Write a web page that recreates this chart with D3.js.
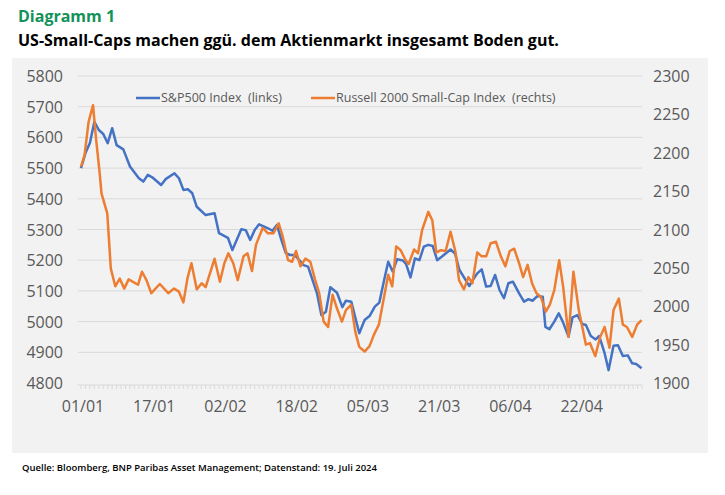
<!doctype html>
<html lang="en">
<head>
  <meta charset="utf-8">
  <script src="https://cdnjs.cloudflare.com/ajax/libs/d3/7.8.5/d3.min.js"></script>
  <style type="text/css">
    body { margin: 0; padding: 0; background: #fff; }
    svg { display: block; font-family: "Open Sans", "Noto Sans", sans-serif; }
  </style>
</head>
<body>
<svg id="canvas" width="725" height="495"></svg>
<script>
// [days since 01/01/2024, index value]
var spx = [[0,5500],[1,5549],[2,5582],[3,5651],[4,5624],[5,5611],[6,5581],[7,5630],[8,5575],[9.5,5561],[11,5505],[13,5467],[14,5456],[15,5478],[16,5470],[18,5445],[19,5464],[21,5483],[22,5467],[23,5429],[24,5431],[25,5418],[26,5374],[28,5347],[30,5353],[31,5288],[33,5273],[34,5233],[36,5301],[37,5298],[38,5266],[39,5298],[40,5317],[42,5304],[43,5296],[44,5315],[45,5266],[46,5223],[47,5217],[48,5217],[50,5184],[51,5179],[53,5092],[54,5021],[55,5032],[56,5112],[57.5,5094],[58.7,5047],[59.5,5068],[60.7,5065],[62.5,4962],[63.7,5005],[64.8,5018],[66,5049],[67,5062],[68,5130],[69,5195],[70,5163],[71,5203],[72.3,5199],[73,5188],[74,5144],[75,5206],[76,5200],[77,5244],[78,5250],[79,5246],[80,5200],[81,5211],[83,5235],[84,5222],[85,5168],[86.4,5135],[87.2,5116],[88,5135],[89,5157],[90,5170],[91,5114],[92,5116],[93,5152],[94,5103],[95,5076],[96,5125],[97,5130],[98.4,5092],[99.5,5065],[100.5,5073],[101.4,5068],[102.5,5083],[103.7,5081],[104.3,4983],[105.2,4975],[106.3,5000],[107.3,5027],[108.2,5000],[109.5,4951],[110.4,5014],[111.5,5021],[112.6,4992],[113.4,4989],[114.5,4953],[115.6,4942],[116.4,4953],[117.6,4897],[118.5,4842],[119.6,4921],[120.6,4923],[121.7,4888],[122.8,4890],[123.8,4864],[124.7,4862],[125.9,4848]];
var rut = [[0,2182],[0.8,2197],[1.7,2240],[2.7,2262],[3.4,2217],[4.2,2173],[4.6,2147],[5.9,2121],[6.7,2049],[7.7,2026],[8.7,2036],[9.7,2023],[10.7,2035],[12.8,2028],[13.7,2045],[14.7,2034],[15.8,2017],[17.7,2029],[19.6,2017],[20.9,2023],[22,2019],[23,2005],[23.9,2036],[24.8,2056],[26,2022],[27.1,2030],[28,2025],[30,2062],[31.2,2032],[32.2,2056],[33.1,2069],[34.2,2056],[35.2,2034],[36.5,2065],[37.4,2069],[38.4,2046],[39.3,2080],[40.8,2102],[42,2095],[43.2,2095],[44.4,2108],[45.3,2091],[46.5,2060],[47.4,2058],[48.3,2072],[49.3,2052],[50.4,2062],[51.5,2058],[52.6,2034],[53.5,2017],[54.5,1980],[55.5,1973],[56.5,2015],[57.5,1997],[58.6,1980],[59.5,1995],[60.7,2002],[61.6,1967],[62.5,1947],[63.7,1941],[64.8,1948],[65.8,1963],[66.9,1976],[68,2010],[69,2041],[69.9,2026],[70.8,2078],[71.8,2073],[72.9,2060],[73.6,2055],[74.8,2074],[75.7,2069],[76.6,2099],[78,2123],[78.9,2112],[79.8,2070],[80.8,2073],[81.9,2072],[83,2097],[84.1,2071],[84.9,2034],[86,2022],[87,2038],[87.9,2030],[89,2070],[90,2065],[91,2065],[92,2082],[93.2,2084],[94.3,2065],[95.3,2052],[96.3,2072],[97.3,2075],[98.4,2056],[99.3,2038],[100.3,2054],[101.3,2030],[102.3,2017],[103.3,2012],[104.4,1993],[105.3,2002],[106.3,2021],[107.4,2060],[108.3,2025],[109.5,1960],[110.6,2045],[111.8,1995],[113.4,1950],[114.3,1952],[115.5,1935],[116.6,1960],[117.6,1973],[118.7,1946],[119.6,1995],[120.8,2010],[121.7,1976],[122.6,1973],[123.8,1960],[124.9,1976],[125.9,1982]];
var leftTicks = [4800,4900,5000,5100,5200,5300,5400,5500,5600,5700,5800];
var rightTicks = [1900,1950,2000,2050,2100,2150,2200,2250,2300];
var xTickLabels = ['01/01','17/01','02/02','18/02','05/03','21/03','06/04','22/04'];
var legendLabels = ['S&P500 Index  (links)', 'Russell 2000 Small-Cap Index  (rechts)'];

var blue = '#4472c4', orange = '#ed7d31';
var svg = d3.select('#canvas');

svg.append('rect').attr('x', 12).attr('y', 58).attr('width', 696).attr('height', 395).attr('fill', '#f2f2f2');
svg.append('rect').attr('x', 15).attr('y', 455).attr('width', 690).attr('height', 25).attr('fill', '#fff');

svg.append('text').attr('x', 18).attr('y', 22).text('Diagramm 1')
  .attr('fill', '#12925a').style('font-size', '16px').style('font-weight', 'bold');
svg.append('text').attr('x', 18).attr('y', 46).text('US-Small-Caps machen ggü. dem Aktienmarkt insgesamt Boden gut.')
  .attr('fill', '#000').style('font-size', '16px').style('font-weight', 'bold');
svg.append('text').attr('x', 22).attr('y', 471)
  .text('Quelle: Bloomberg, BNP Paribas Asset Management; Datenstand: 19. Juli 2024')
  .attr('fill', '#000').style('font-size', '9.5px').style('font-weight', '600');

var x = d3.scaleLinear().domain([0, 126]).range([81, 642]);
var yL = d3.scaleLinear().domain([4800, 5800]).range([383, 76]);
var yR = d3.scaleLinear().domain([1900, 2300]).range([383, 76]);

svg.selectAll('.grid').data(leftTicks.slice(1)).enter().append('line')
  .attr('x1', 78).attr('x2', 642)
  .attr('y1', function(d) { return yL(d); }).attr('y2', function(d) { return yL(d); })
  .attr('stroke', '#d9d9d9').attr('stroke-width', 1);

svg.selectAll('.lt').data(leftTicks).enter().append('text')
  .attr('x', 63).attr('y', function(d) { return yL(d) + 6; })
  .attr('text-anchor', 'end').attr('fill', '#595959').style('font-size', '16px')
  .text(function(d) { return d; });
svg.selectAll('.rt').data(rightTicks).enter().append('text')
  .attr('x', 653).attr('y', function(d) { return yR(d) + 6; })
  .attr('fill', '#595959').style('font-size', '16px')
  .text(function(d) { return d; });

// axis line with daily minor ticks
svg.append('line').attr('x1', 78).attr('x2', 642).attr('y1', 385).attr('y2', 385).attr('stroke', '#d9d9d9');
svg.selectAll('.mt').data(d3.range(0, 127)).enter().append('line')
  .attr('x1', function(d) { return x(d); }).attr('x2', function(d) { return x(d); })
  .attr('y1', 385).attr('y2', 389).attr('stroke', '#d9d9d9');
svg.selectAll('.xt').data(xTickLabels).enter().append('text')
  .attr('x', function(d, i) { return x(i * 16) + 2; }).attr('y', 412)
  .attr('text-anchor', 'middle').attr('fill', '#595959').style('font-size', '16px')
  .text(function(d) { return d; });

var lineL = d3.line().x(function(d) { return x(d[0]); }).y(function(d) { return yL(d[1]); });
var lineR = d3.line().x(function(d) { return x(d[0]); }).y(function(d) { return yR(d[1]); });

svg.append('path').datum(spx).attr('d', lineL)
  .attr('fill', 'none').attr('stroke', blue).attr('stroke-width', 2.5).attr('stroke-linejoin', 'round');
svg.append('path').datum(rut).attr('d', lineR)
  .attr('fill', 'none').attr('stroke', orange).attr('stroke-width', 2.5).attr('stroke-linejoin', 'round');

// legend
var legX = [136, 311];
[blue, orange].forEach(function(c, i) {
  svg.append('line').attr('x1', legX[i]).attr('x2', legX[i] + 24).attr('y1', 98).attr('y2', 98)
    .attr('stroke', c).attr('stroke-width', 2.5);
  svg.append('text').attr('x', legX[i] + 25).attr('y', 102).text(legendLabels[i])
    .attr('fill', '#595959').style('font-size', '12.5px').style('white-space', 'pre');
});
</script>
</body>
</html>
